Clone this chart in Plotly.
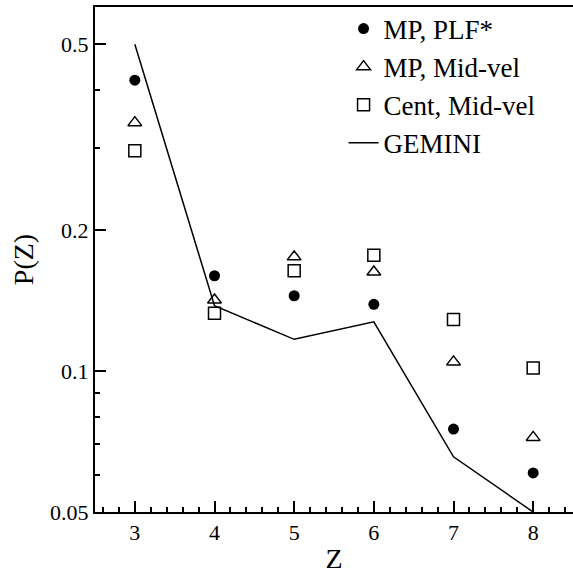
import plotly.graph_objects as go

Z = [3, 4, 5, 6, 7, 8]
mp_plf = [0.419, 0.160, 0.145, 0.139, 0.0752, 0.0606]
mp_mid = [0.340, 0.142, 0.1756, 0.163, 0.1047, 0.0722]
cent_mid = [0.296, 0.133, 0.164, 0.177, 0.129, 0.1016]
gemini = [0.50, 0.138, 0.117, 0.1275, 0.0656, 0.050]

x_ticks = [3, 4, 5, 6, 7, 8]
y_ticks = [0.05, 0.1, 0.2, 0.5]
y_tick_text = ["0.05", "0.1", "0.2", "0.5"]
y_minor = [0.06, 0.07, 0.08, 0.09, 0.3, 0.4]

FONT = "Liberation Serif"
INK = "#000000"

fig = go.Figure()
fig.add_trace(go.Scatter(x=Z, y=mp_plf, mode="markers", name="MP, PLF*",
                         marker=dict(symbol="circle", size=11, color=INK)))
fig.add_trace(go.Scatter(x=Z, y=mp_mid, mode="markers", name="MP, Mid-vel",
                         marker=dict(symbol="triangle-up-open", size=12, color=INK,
                                     line=dict(width=1.5, color=INK))))
fig.add_trace(go.Scatter(x=Z, y=cent_mid, mode="markers", name="Cent, Mid-vel",
                         marker=dict(symbol="square-open", size=12, color=INK,
                                     line=dict(width=1.5, color=INK))))
fig.add_trace(go.Scatter(x=Z, y=gemini, mode="lines", name="GEMINI",
                         line=dict(color=INK, width=1.5)))

fig.update_layout(
    template="none",
    width=573, height=574,
    margin=dict(l=95, r=0, t=7, b=62),
    paper_bgcolor="white", plot_bgcolor="white",
    font=dict(family=FONT, color=INK, size=22),
    showlegend=True,
    legend=dict(x=0.52, y=1.005, xanchor="left", yanchor="top",
                bgcolor="rgba(0,0,0,0)", font=dict(size=27, family=FONT),
                tracegroupgap=0, itemwidth=30),
)
fig.update_xaxes(
    range=[2.5, 8.5], tickmode="array", tickvals=x_ticks, ticks="inside", ticklen=11,
    tickwidth=2, tickcolor=INK, showline=True, linecolor=INK,
    linewidth=2, mirror=True, showgrid=False, zeroline=False,
    tickfont=dict(size=22, family=FONT),
    title=dict(text="Z", font=dict(size=28, family=FONT), standoff=6),
    minor=dict(tickmode="linear", dtick=0.2, tick0=2.6, ticks="inside", ticklen=5,
               tickwidth=1.5, tickcolor=INK, showgrid=False),
)
fig.update_yaxes(
    type="log", range=[-1.30103, -0.2212], tickmode="array", tickvals=y_ticks,
    ticktext=y_tick_text, ticks="inside", ticklen=11, tickwidth=2,
    tickcolor=INK, showline=True, linecolor=INK, linewidth=2,
    mirror=False, showgrid=False, zeroline=False,
    tickfont=dict(size=22, family=FONT),
    title=dict(text="P(Z)", font=dict(size=28, family=FONT), standoff=8),
    minor=dict(tickmode="array", tickvals=y_minor, ticks="inside", ticklen=5,
               tickwidth=1.5, tickcolor=INK, showgrid=False),
)

fig.write_html("out.html", config={"displayModeBar": False},
               post_script="document.body.style.margin='0';")
